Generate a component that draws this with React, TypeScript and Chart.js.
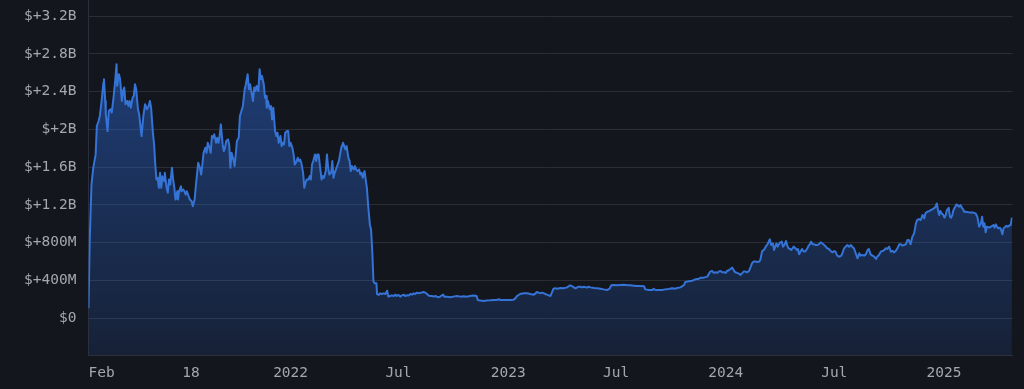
import React, { useEffect, useRef } from 'react';
import { Chart, registerables } from 'chart.js';

Chart.register(...registerables);

// ---------- data ----------
const START_DATE = '2021-01-27';
const END_DATE = '2025-04-26';

// days since START_DATE
const DAYS = [
  0, 2, 5, 8, 12, 14, 17, 19, 22, 25, 26, 28, 29, 32, 34, 37, 39, 42, 45, 47, 48, 51, 53, 56, 58, 60, 62, 65, 67, 69,
  71, 74, 76, 78, 80, 83, 85, 89, 92, 95, 98, 101, 103, 105, 108, 110, 112, 114, 116, 118, 120, 122, 124, 127, 128, 131,
  133, 135, 137, 140, 142, 144, 146, 149, 150, 152, 155, 156, 159, 161, 163, 165, 168, 170, 173, 175, 178, 180, 182, 184,
  187, 189, 191, 193, 196, 198, 200, 202, 205, 207, 209, 211, 214, 216, 218, 220, 222, 225, 227, 229, 231, 234, 236, 238,
  240, 243, 245, 247, 249, 252, 254,
  259, 262, 264, 267, 269, 271, 273, 276, 278, 280, 282, 285, 287, 289, 291, 294, 296, 298, 299, 301, 304, 306, 308, 310,
  313, 315, 317, 319, 322, 324, 326, 328, 330, 333, 335, 337, 339, 342, 344, 346, 348, 351, 353, 355, 357, 360, 362, 364,
  366, 369, 371, 373, 375, 377, 380, 382, 384, 386, 389, 391, 393, 395, 398, 400, 402, 404, 407, 409, 411, 413, 416, 418,
  420, 422, 424, 427, 429, 431, 433, 436, 438, 440, 442, 445, 447, 449, 451, 454, 456, 458, 460, 463, 465, 467, 469, 472,
  474, 476, 478, 480, 483,
  484, 487, 489, 492, 495, 498, 501, 503, 506, 509, 512, 515, 517, 520, 523, 526, 529, 531, 534, 537, 540, 543, 545, 548,
  551, 554, 557, 559, 562, 565, 568, 570, 573, 576, 579, 582, 584, 587, 590, 593, 595, 597, 601, 607, 612, 618, 624, 629,
  635, 640, 646, 651, 653, 657, 663, 668, 674, 680, 685, 688, 691, 697, 702, 708, 713, 716, 719, 724, 730, 736, 741, 747,
  750, 752, 755, 758, 761, 764, 766, 769, 772, 775, 778, 780, 783, 786, 792, 797, 803, 806, 808, 811, 814, 817, 820, 822,
  825, 828, 831, 836, 839, 842, 848, 853, 859, 864, 870, 874, 877, 881, 887, 892, 898, 904, 909, 915, 920, 926, 932, 934,
  940, 946, 948, 951, 957, 962, 968, 973, 979, 985, 987, 993, 999, 1001, 1007, 1013, 1018, 1024,
  1027, 1032, 1038, 1043, 1046, 1049, 1052, 1055, 1057, 1060, 1063, 1066, 1069, 1071, 1074, 1077, 1080, 1083, 1085, 1088,
  1091, 1094, 1097, 1099, 1102, 1105, 1108, 1111, 1113, 1116, 1119, 1122, 1125, 1127, 1130, 1133, 1136, 1139, 1141, 1143,
  1145, 1148, 1150, 1152, 1154, 1156, 1159, 1161, 1163, 1165, 1168, 1170, 1172, 1174, 1177, 1179, 1181, 1183, 1186, 1188,
  1190, 1192, 1195, 1197, 1199, 1201, 1203, 1206, 1208, 1210, 1212, 1215, 1217, 1220, 1223, 1225, 1228, 1231, 1234, 1237,
  1239, 1242, 1245, 1248, 1251, 1253, 1256, 1259, 1262, 1264, 1267, 1270, 1273, 1276,
  1279, 1281, 1284, 1287, 1290, 1293, 1295, 1298, 1301, 1304, 1307, 1309, 1312, 1315, 1318, 1321, 1323, 1326, 1329, 1332,
  1335, 1337, 1340, 1343, 1346, 1349, 1351, 1354, 1357, 1360, 1363, 1365, 1368, 1371, 1374, 1376, 1379, 1382, 1385, 1388,
  1390, 1393, 1396, 1399, 1402, 1404, 1407, 1410, 1413, 1416, 1418, 1421, 1423, 1425, 1427, 1429, 1431, 1434, 1436, 1438,
  1440, 1443, 1445, 1447, 1449, 1451, 1454, 1456, 1458, 1460, 1463, 1465, 1467, 1469, 1472, 1477, 1483, 1488, 1491, 1494,
  1497, 1499, 1501, 1503, 1505, 1507, 1511, 1514, 1518, 1520, 1522, 1524, 1526, 1529, 1531, 1533, 1535, 1538, 1540, 1542,
  1544, 1547, 1549,
];

// values in millions of USD
const VALUES_M = [
  106, 814, 1416, 1593, 1735, 2036, 2089, 2142, 2301, 2496, 2531, 2301, 2160, 1982, 2195, 2213, 2177, 2336, 2531, 2690,
  2460, 2584, 2531, 2301, 2407, 2443, 2266, 2301, 2248, 2301, 2230, 2336, 2354, 2478, 2425, 2213, 2160, 1929, 2142, 2266,
  2213, 2248, 2301, 2230, 1965, 1841, 1628, 1469, 1487, 1381, 1540, 1381, 1505, 1451, 1540, 1381, 1328, 1469, 1416, 1593,
  1469, 1381, 1257, 1345, 1257, 1345, 1398, 1345, 1363, 1345, 1310, 1345, 1292, 1257, 1239, 1186, 1257, 1398, 1522, 1646,
  1593, 1522, 1628, 1752, 1805, 1752, 1858, 1823, 1752, 1929, 1911, 1947, 1858, 1911, 1858, 1929, 2053, 1841, 1770, 1805,
  1876, 1894, 1841, 1593, 1752, 1681, 1611, 1735, 1876, 1911, 2142,
  2248, 2425, 2478, 2584, 2425, 2478, 2407, 2301, 2443, 2407, 2460, 2407, 2637, 2531, 2566, 2478, 2336, 2354, 2230, 2301,
  2213, 2248, 2106, 2230, 1982, 1929, 1965, 1858, 1929, 1823, 1858, 1841, 1965, 1982, 1982, 1823, 1858, 1805, 1735, 1628,
  1646, 1699, 1664, 1681, 1646, 1540, 1381, 1434, 1469, 1469, 1505, 1469, 1628, 1664, 1735, 1664, 1735, 1735, 1575, 1469,
  1505, 1487, 1558, 1735, 1593, 1522, 1540, 1664, 1487, 1540, 1593, 1628, 1664, 1735, 1805, 1858, 1823, 1788, 1823, 1699,
  1664, 1558, 1611, 1575, 1611, 1575, 1558, 1575, 1522, 1540, 1487, 1558, 1469, 1381, 1204, 991, 938, 708, 389, 372, 372,
  257, 247, 264, 257, 264, 257, 292, 229, 236, 243, 236, 250, 236, 247, 229, 243, 250, 236, 243, 240, 257, 250, 264, 257,
  271, 264, 271, 271, 278, 271, 257, 243, 236, 236, 229, 236, 229, 222, 229, 243, 250, 229, 229, 222, 229, 236, 229, 233,
  229, 236, 240, 236, 194, 187, 183, 187, 190, 194, 194, 201, 194, 194, 194, 194, 197, 211, 236, 257, 264, 264, 257, 250,
  264, 278, 271, 264, 271, 264, 257, 250, 243, 236, 282, 313, 317, 313, 320, 317, 327, 341, 349, 341, 327, 317, 327, 334,
  334, 327, 334, 324, 334, 327, 320, 317, 313, 306, 299, 313, 349, 352, 349, 352, 355, 349, 349, 345, 341, 341, 338, 306,
  299, 299, 313, 299, 299, 299, 306, 310, 317, 313, 320, 327, 352, 384, 391, 398, 412, 419,
  430, 430, 441, 494, 501, 480, 487, 480, 494, 501, 487, 487, 480, 501, 508, 522, 536, 501, 487, 480,
  473, 459, 480, 494, 494, 487, 501, 547, 582, 600, 600, 596, 600, 617, 712, 723, 758, 783, 811, 836,
  776, 793, 723, 758, 793, 758, 793, 804, 811, 758, 783, 818, 776, 741, 734, 723, 741, 758, 741, 723,
  734, 677, 712, 734, 712, 705, 712, 741, 769, 783, 811, 783, 783, 776, 776, 783, 804, 793, 776, 758,
  741, 734, 712, 698, 712, 705, 663, 652, 659, 677, 734, 758, 776, 758,
  776, 758, 741, 688, 635, 688, 663, 670, 663, 677, 723, 734, 677, 663, 652, 628, 652, 670, 705, 712,
  723, 741, 734, 758, 705, 712, 698, 712, 741, 783, 783, 769, 776, 783, 829, 829, 783, 864, 899, 1005,
  1040, 1051, 1040, 1093, 1058, 1111, 1128, 1135, 1146, 1156, 1163, 1181, 1216, 1146, 1093, 1135, 1111, 1093, 1065, 1093,
  1146, 1170, 1075, 1065, 1093, 1146, 1181, 1205, 1198, 1181, 1198, 1170, 1156, 1128, 1128, 1121, 1121, 1111, 1075, 970,
  1005, 1075, 970, 1005, 910, 970, 959, 970, 987, 959, 994, 970, 952, 959, 934, 889, 952, 970, 980, 970,
  980, 987, 1065,
];

const X_TICK_DATES = [
  '2021-02-18', '2021-07-18', '2022-01-01', '2022-07-01', '2023-01-01',
  '2023-07-01', '2024-01-01', '2024-07-01', '2025-01-01',
];
const X_TICK_LABELS = ['Feb', '18', '2022', 'Jul', '2023', 'Jul', '2024', 'Jul', '2025'];

const Y_TICKS_M = [0, 400, 800, 1200, 1600, 2000, 2400, 2800, 3200];
const Y_MIN_M = -389;
const Y_MAX_M = 3370;

// ---------- style ----------
const BG = '#13161d';
const LINE = '#3574d6';
const GRID = '#2b2e34';
const BORDER = '#2a2f3b';
const TEXT = '#a4a7ad';
const FONT = "'DejaVu Sans Mono', monospace";

function fmtMoney(v: number): string {
  if (v === 0) return '$0';
  if (v >= 1000) return '$+' + v / 1000 + 'B';
  return '$+' + v + 'M';
}

export default function App() {
  const ref = useRef<HTMLCanvasElement>(null);

  useEffect(() => {
    document.body.style.margin = '0';
    document.body.style.background = BG;
    document.body.style.overflow = 'hidden';
    const canvas = ref.current;
    if (!canvas) return;
    const startMs = Date.parse(START_DATE);
    const toDay = (d: string) => Math.round((Date.parse(d) - startMs) / 86400000);
    const xTicks = X_TICK_DATES.map(toDay);
    const points = DAYS.map((d, i) => ({ x: d, y: VALUES_M[i] }));

    const chart = new Chart(canvas, {
      type: 'line',
      data: {
        datasets: [
          {
            data: points,
            borderColor: LINE,
            borderWidth: 2,
            borderJoinStyle: 'round',
            pointRadius: 0,
            tension: 0,
            fill: 'start',
            backgroundColor: (ctx: any) => {
              const area = ctx.chart.chartArea;
              if (!area) return 'rgba(44,105,210,0.3)';
              const g = ctx.chart.ctx.createLinearGradient(0, area.top, 0, area.bottom);
              g.addColorStop(0, 'rgba(44,105,215,0.55)');
              g.addColorStop(1, 'rgba(44,105,215,0.14)');
              return g;
            },
          },
        ],
      },
      options: {
        animation: false,
        responsive: false,
        devicePixelRatio: 1,
        layout: { padding: { top: 0, right: 11.5, bottom: 0, left: 0 } },
        plugins: {
          legend: { display: false },
          tooltip: { enabled: false },
        },
        scales: {
          x: {
            type: 'linear',
            min: 0,
            max: toDay(END_DATE),
            grid: { display: false, drawTicks: false },
            border: { display: true, color: BORDER, width: 1 },
            ticks: {
              autoSkip: false,
              maxRotation: 0,
              padding: 10,
              color: TEXT,
              font: { family: FONT, size: 14.5 },
              callback: (v: any) => {
                const i = xTicks.indexOf(Number(v));
                return i >= 0 ? X_TICK_LABELS[i] : '';
              },
            },
            afterBuildTicks: (scale: any) => {
              scale.ticks = xTicks.map((v) => ({ value: v }));
            },
            afterFit: (scale: any) => {
              scale.height = 34;
              scale.paddingLeft = 0;
              scale.paddingRight = 0;
            },
          },
          y: {
            type: 'linear',
            min: Y_MIN_M,
            max: Y_MAX_M,
            grid: { display: true, color: GRID, drawTicks: false, lineWidth: 1 },
            border: { display: true, color: BORDER, width: 1 },
            ticks: {
              padding: 12,
              color: TEXT,
              font: { family: FONT, size: 14.5 },
              callback: (v: any) => fmtMoney(Number(v)),
            },
            afterBuildTicks: (scale: any) => {
              scale.ticks = Y_TICKS_M.map((v) => ({ value: v }));
            },
            afterFit: (scale: any) => {
              scale.width = 88.5;
              scale.paddingTop = 0;
              scale.paddingBottom = 0;
            },
          },
        },
      },
    });
    return () => chart.destroy();
  }, []);

  return (
    <div style={{ width: 1024, height: 389, background: BG }}>
      <canvas ref={ref} width={1024} height={389} style={{ display: 'block' }} />
    </div>
  );
}
